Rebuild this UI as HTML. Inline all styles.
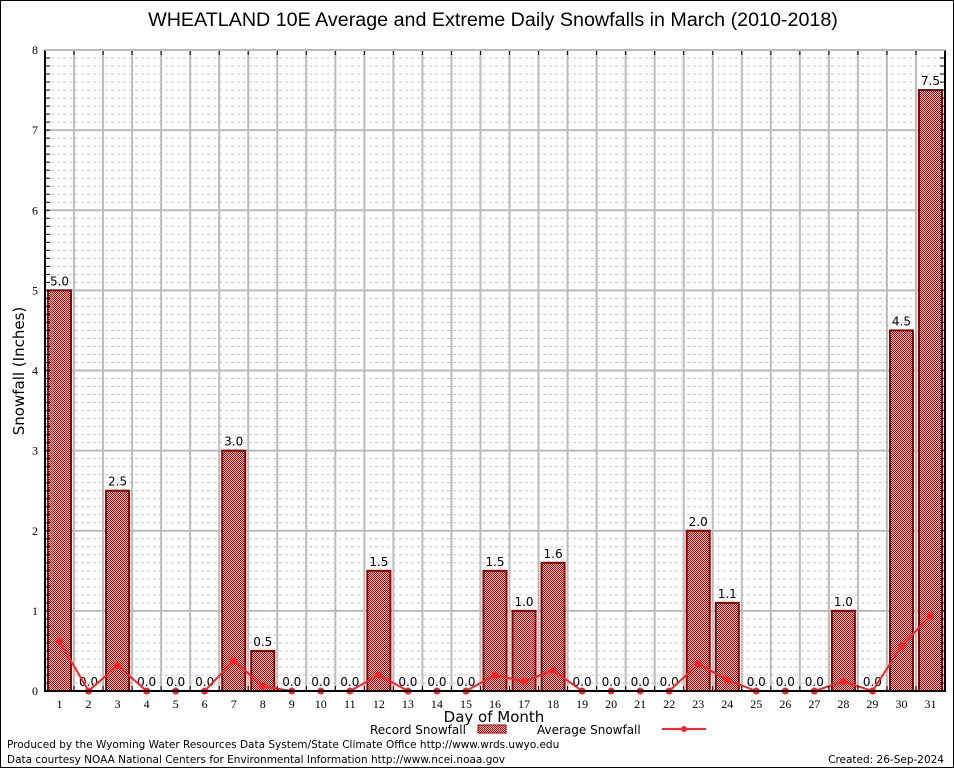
<!DOCTYPE html>
<html><head><meta charset="utf-8"><style>
body{margin:0;background:#fff}
svg{display:block;font-family:"DejaVu Sans","Liberation Sans",sans-serif}
</style></head><body>
<svg id="chart" width="954" height="768">
<defs>
<pattern id="chk" width="2" height="2" patternUnits="userSpaceOnUse">
<rect width="2" height="2" fill="#f4dede"/><rect width="1" height="1" fill="#a01010"/><rect x="1" y="1" width="1" height="1" fill="#a01010"/>
</pattern>
</defs>
<rect x="0.5" y="0.5" width="953" height="767" fill="#fff" stroke="#000"/>
<text x="493" y="26" font-size="19.7" text-anchor="middle" font-family="Liberation Sans, sans-serif">WHEATLAND 10E Average and Extreme Daily Snowfalls in March (2010-2018)</text>
<g id="grid"></g>
<g id="bars"></g>
<g id="line"></g>
<g id="axes"></g>
<text transform="translate(24,371) rotate(-90)" font-size="15" text-anchor="middle">Snowfall (Inches)</text>
<text x="494" y="722" font-size="15" text-anchor="middle">Day of Month</text>
<g>
<text x="370" y="734" font-size="12">Record Snowfall</text>
<rect x="478" y="725" width="28" height="8" fill="url(#chk)" stroke="#8b0000"/>
<text x="537" y="734" font-size="12">Average Snowfall</text>
<line x1="662" y1="729" x2="706" y2="729" stroke="#f22" stroke-width="2"/>
<circle cx="684" cy="729" r="3" fill="#f22"/>
</g>
<text x="7" y="748" font-size="10.5">Produced by the Wyoming Water Resources Data System/State Climate Office http://www.wrds.uwyo.edu</text>
<text x="7" y="763" font-size="10.5">Data courtesy NOAA National Centers for Environmental Information http://www.ncei.noaa.gov</text>
<text x="944" y="763" font-size="10.5" text-anchor="end">Created: 26-Sep-2024</text>
</svg>
<script>
const days=[1,2,3,4,5,6,7,8,9,10,11,12,13,14,15,16,17,18,19,20,21,22,23,24,25,26,27,28,29,30,31];
const recordSnow=[5.0,0,2.5,0,0,0,3.0,0.5,0,0,0,1.5,0,0,0,1.5,1.0,1.6,0,0,0,0,2.0,1.1,0,0,0,1.0,0,4.5,7.5];
const avgSnow=[0.62,0,0.32,0,0,0,0.38,0.06,0,0,0,0.2,0,0,0,0.2,0.12,0.26,0,0,0,0,0.34,0.14,0,0,0,0.12,0,0.56,0.94];
const yTicks=[0,1,2,3,4,5,6,7,8];
const L=45,R=945,T=50,B=691,NS="http://www.w3.org/2000/svg";
const bw=(R-L)/days.length;
const xs=i=>L+(i+0.5)*bw;
const ys=v=>B-(v/8)*(B-T);
function mk(p,t,a){const e=document.createElementNS(NS,t);for(const k in a)e.setAttribute(k,a[k]);document.getElementById(p).appendChild(e);return e;}
for(let k=1;k<80;k++){if(k%10===0)continue;const v=k/10;const l=mk('grid','line',{x1:L,x2:R,y1:ys(v),y2:ys(v),stroke:'#c8c8c8','stroke-dasharray':'3,3'});

}
yTicks.forEach(v=>{const l=mk('grid','line',{x1:L,x2:R,y1:ys(v),y2:ys(v),stroke:'#bbb','stroke-width':2});


const t=mk('axes','text',{x:L-7,y:ys(v)+4,'font-size':12,'text-anchor':'end','font-family':'Liberation Serif, serif'});t.textContent=v;

});
for(let i=1;i<days.length;i++){const x=L+i*bw;const l=mk('grid','line',{x1:x,x2:x,y1:T,y2:B,stroke:'#bbb','stroke-width':2});


const a=mk('axes','line',{x1:x,x2:x,y1:T,y2:T+5,stroke:'#000'});
const b=mk('axes','line',{x1:x,x2:x,y1:B,y2:B-5,stroke:'#000'});}
days.forEach((d,i)=>{const v=recordSnow[i];
if(v>0){const r=mk('bars','rect',{x:xs(i)-11.5,y:ys(v),width:23,height:B-ys(v),fill:'url(#chk)',stroke:'#8b0000','stroke-width':2});

}
const t=mk('bars','text',{x:xs(i),y:ys(v)-5,'font-size':12,'text-anchor':'middle'});t.textContent=v.toFixed(1);


const xl=mk('axes','text',{x:xs(i),y:B+17,'font-size':12,'text-anchor':'middle','font-family':'Liberation Serif, serif'});xl.textContent=d;

});
const pl=mk('line','polyline',{points:days.map((d,i)=>xs(i)+','+ys(avgSnow[i])).join(' '),fill:'none',stroke:'#f22','stroke-width':2});


days.forEach((d,i)=>{const c=mk('line','circle',{cx:xs(i),cy:ys(avgSnow[i]),r:3.5,fill:'#f22'});

});
const ax=mk('axes','path',{d:`M${L},${T}V${B}H${R}V${T}`,fill:'none',stroke:'#000','stroke-width':2});


const tp=mk('axes','line',{x1:L,x2:R,y1:T,y2:T,stroke:'#bbb','stroke-width':2});


for(let k=1;k<80;k++){const v=k/10;const t1=mk('axes','line',{x1:L,x2:L+5,y1:ys(v),y2:ys(v),stroke:'#000'});
const t2=mk('axes','line',{x1:R,x2:R-5,y1:ys(v),y2:ys(v),stroke:'#000'});}
</script>
</body></html>
